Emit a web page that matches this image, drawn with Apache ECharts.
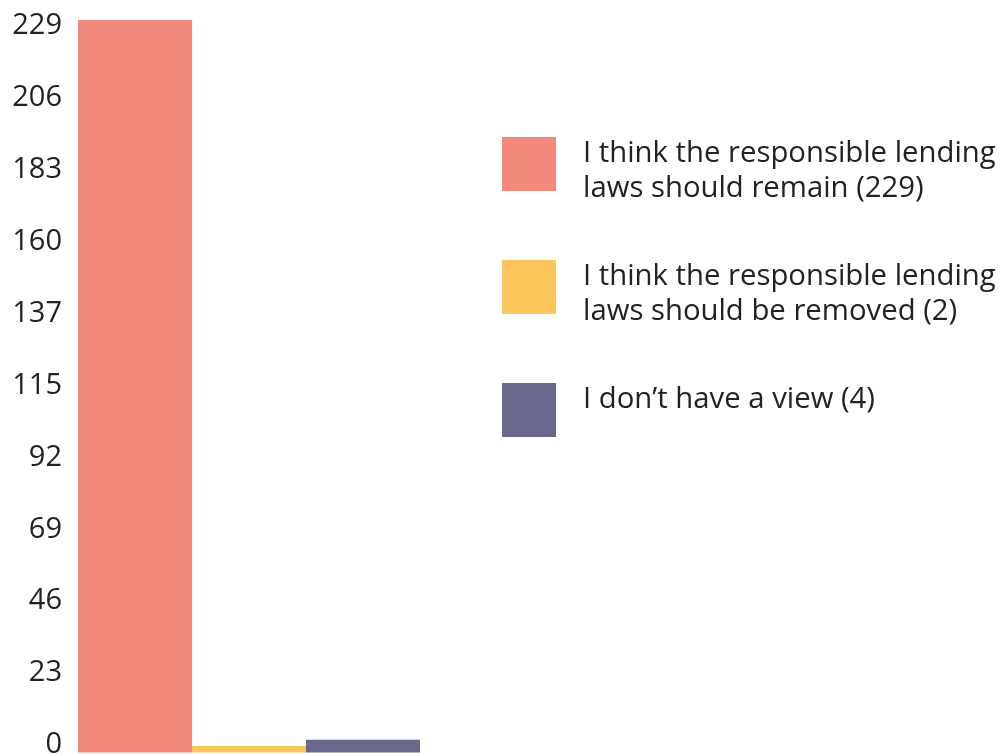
<!DOCTYPE html>
<html>
<head>
<meta charset="utf-8">
<script src="https://cdn.jsdelivr.net/npm/echarts@6/dist/echarts.min.js"></script>
<style>
    html, body { margin: 0; padding: 0; background: #fff; }
    #chart { width: 1005px; height: 754px; }
</style>
</head>
<body>
<div id="chart"></div>
<script>
    var categories = ['Responses'];
    var seriesNames = [
        'I think the responsible lending\nlaws should remain (229)',
        'I think the responsible lending\nlaws should be removed (2)',
        'I don\u2019t have a view (4)'
    ];
    var seriesValues = [229, 2, 4];
    var seriesColors = ['#F3897A', '#FDC65D', '#6A698C'];
    var axisMax = 229;
    var axisStep = 22.9;

    var textColor = '#222222';
    var fontFamily = '"Open Sans", sans-serif';

    var series = [];
    for (var i = 0; i < seriesNames.length; i++) {
        series.push({
            name: seriesNames[i],
            type: 'bar',
            data: [seriesValues[i]],
            barGap: '0%',
            barCategoryGap: '0%',
            itemStyle: { color: seriesColors[i] },
            silent: true
        });
    }

    // the original spreads its tick labels a bit less than the ticks themselves,
    // so nudge each label: -7.5px at 0 up to +6px at the top
    var labelRich = {};
    for (var k = 0; k <= 10; k++) {
        var d = -7.5 + k * 1.35;
        labelRich['p' + k] = {
            padding: d > 0 ? [2 * d, 0, 0, 0] : [0, 0, -2 * d, 0]
        };
    }

    var option = {
        animation: false,
        backgroundColor: '#ffffff',
        grid: {
            left: 78,
            top: 20,
            width: 342,
            height: 732.5,
            containLabel: false,
            outerBoundsMode: 'none'
        },
        legend: {
            orient: 'vertical',
            left: 502,
            top: 121.5,
            padding: 0,
            itemWidth: 54,
            itemHeight: 54,
            itemGap: 38,
            icon: 'rect',
            selectedMode: false,
            data: seriesNames,
            // small spacer line on top pushes the text down a little against the box;
            // one-line entries get an empty second line so they sit high like the original
            formatter: function (name) {
                var txt = name.indexOf('\n') < 0 ? name + '\n ' : name;
                return '{s| }\n' + txt;
            },
            textStyle: {
                color: textColor,
                fontFamily: fontFamily,
                fontSize: 29.3,
                lineHeight: 35.5,
                padding: [0, 0, 0, 22],
                rich: {
                    s: { lineHeight: 14, fontSize: 10 }
                }
            }
        },
        xAxis: {
            type: 'category',
            data: categories,
            axisLine: { show: false },
            axisTick: { show: false },
            axisLabel: { show: false },
            splitLine: { show: false }
        },
        yAxis: {
            type: 'value',
            min: 0,
            max: axisMax,
            interval: axisStep,
            axisLine: { show: false },
            axisTick: { show: false },
            splitLine: { show: false },
            axisLabel: {
                color: textColor,
                fontFamily: fontFamily,
                fontSize: 29,
                margin: 16,
                rich: labelRich,
                formatter: function (v, idx) {
                    return '{p' + idx + '|' + Math.round(v) + '}';
                }
            }
        },
        series: series
    };

    var chart = echarts.init(document.getElementById('chart'));
    chart.setOption(option);
</script>
</body>
</html>
